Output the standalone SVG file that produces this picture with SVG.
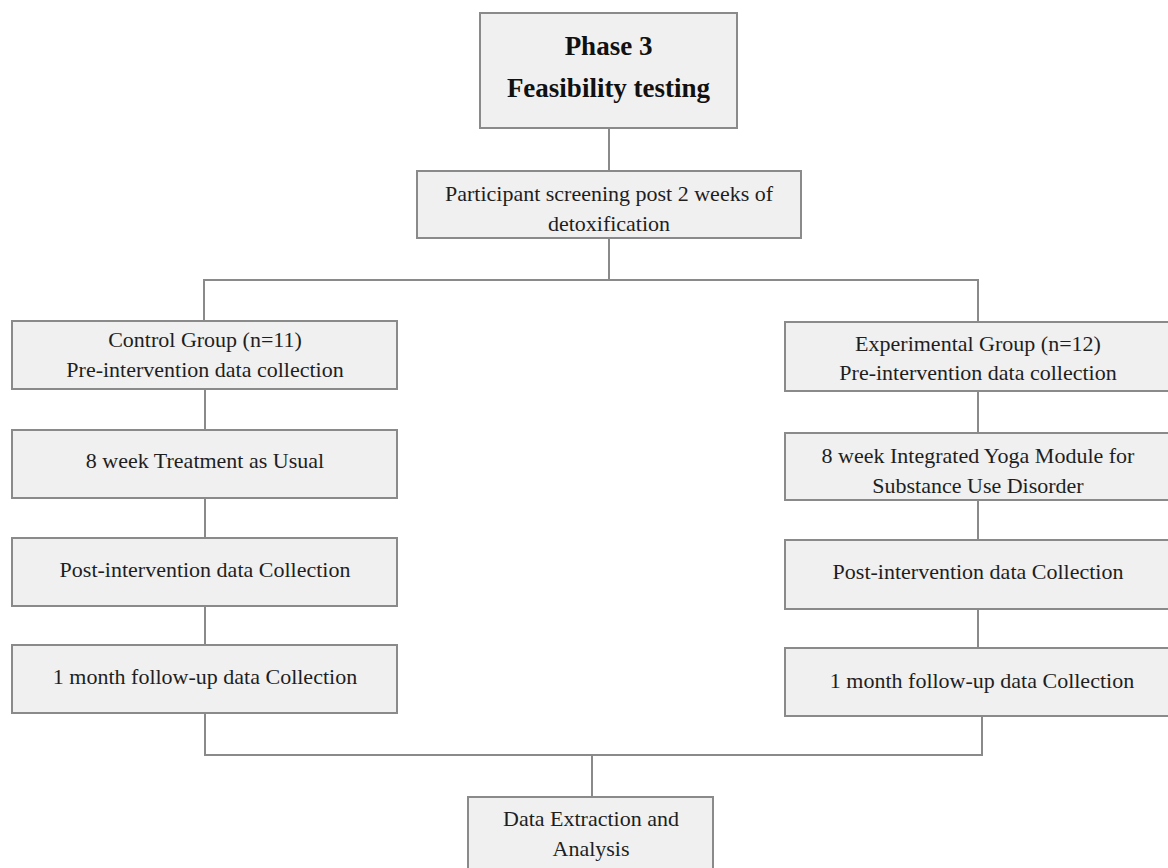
<svg xmlns="http://www.w3.org/2000/svg" width="1168" height="868" viewBox="0 0 1168 868">
<style>
.box{fill:#f0f0f0;stroke:#8a8a8a;stroke-width:2}
.t{font-family:"Liberation Serif","Times New Roman",serif;font-size:22px;fill:#1e1e1e;text-anchor:middle}
.h{font-family:"Liberation Serif","Times New Roman",serif;font-size:27px;font-weight:bold;fill:#111;text-anchor:middle}
.c{fill:none;stroke:#8a8a8a;stroke-width:2}
</style>
<rect width="1168" height="868" fill="#fff"/>
<g id="connectors">
<path class="c" d="M609 128V172"/>
<path class="c" d="M609 238V280M204 321V280H978V322"/>
<path class="c" d="M205 389V430M205 498V538M205 606V645M205 713V755H982V716"/>
<path class="c" d="M978 391V433M978 500V540M978 609V648"/>
<path class="c" d="M592 755V797"/>
</g>
<g id="title"><rect class="box" x="480" y="13" width="257" height="115"/>
<text class="h" x="608.5" y="55">Phase 3</text><text class="h" x="608.5" y="97">Feasibility testing</text></g>
<g id="screening"><rect class="box" x="417" y="171" width="384" height="67"/>
<text class="t" x="609" y="201">Participant screening post 2 weeks of</text><text class="t" x="609" y="231">detoxification</text></g>
<g id="control-pre"><rect class="box" x="12" y="321" width="385" height="68"/>
<text class="t" x="205" y="347">Control Group (n=11)</text><text class="t" x="205" y="377">Pre-intervention data collection</text></g>
<g id="control-tau"><rect class="box" x="12" y="430" width="385" height="68"/>
<text class="t" x="205" y="468">8 week Treatment as Usual</text></g>
<g id="control-post"><rect class="box" x="12" y="538" width="385" height="68"/>
<text class="t" x="205" y="577">Post-intervention data Collection</text></g>
<g id="control-follow"><rect class="box" x="12" y="645" width="385" height="68"/>
<text class="t" x="205" y="684">1 month follow-up data Collection</text></g>
<g id="exp-pre"><rect class="box" x="785" y="322" width="390" height="69"/>
<text class="t" x="978" y="351">Experimental Group (n=12)</text><text class="t" x="978" y="380">Pre-intervention data collection</text></g>
<g id="exp-yoga"><rect class="box" x="785" y="433" width="390" height="67"/>
<text class="t" x="978" y="463">8 week Integrated Yoga Module for</text><text class="t" x="978" y="493">Substance Use Disorder</text></g>
<g id="exp-post"><rect class="box" x="785" y="540" width="390" height="69"/>
<text class="t" x="978" y="579">Post-intervention data Collection</text></g>
<g id="exp-follow"><rect class="box" x="785" y="648" width="390" height="68"/>
<text class="t" x="982" y="688">1 month follow-up data Collection</text></g>
<g id="analysis"><rect class="box" x="468" y="797" width="245" height="80"/>
<text class="t" x="591" y="826">Data Extraction and</text><text class="t" x="591" y="856">Analysis</text></g>
</svg>
